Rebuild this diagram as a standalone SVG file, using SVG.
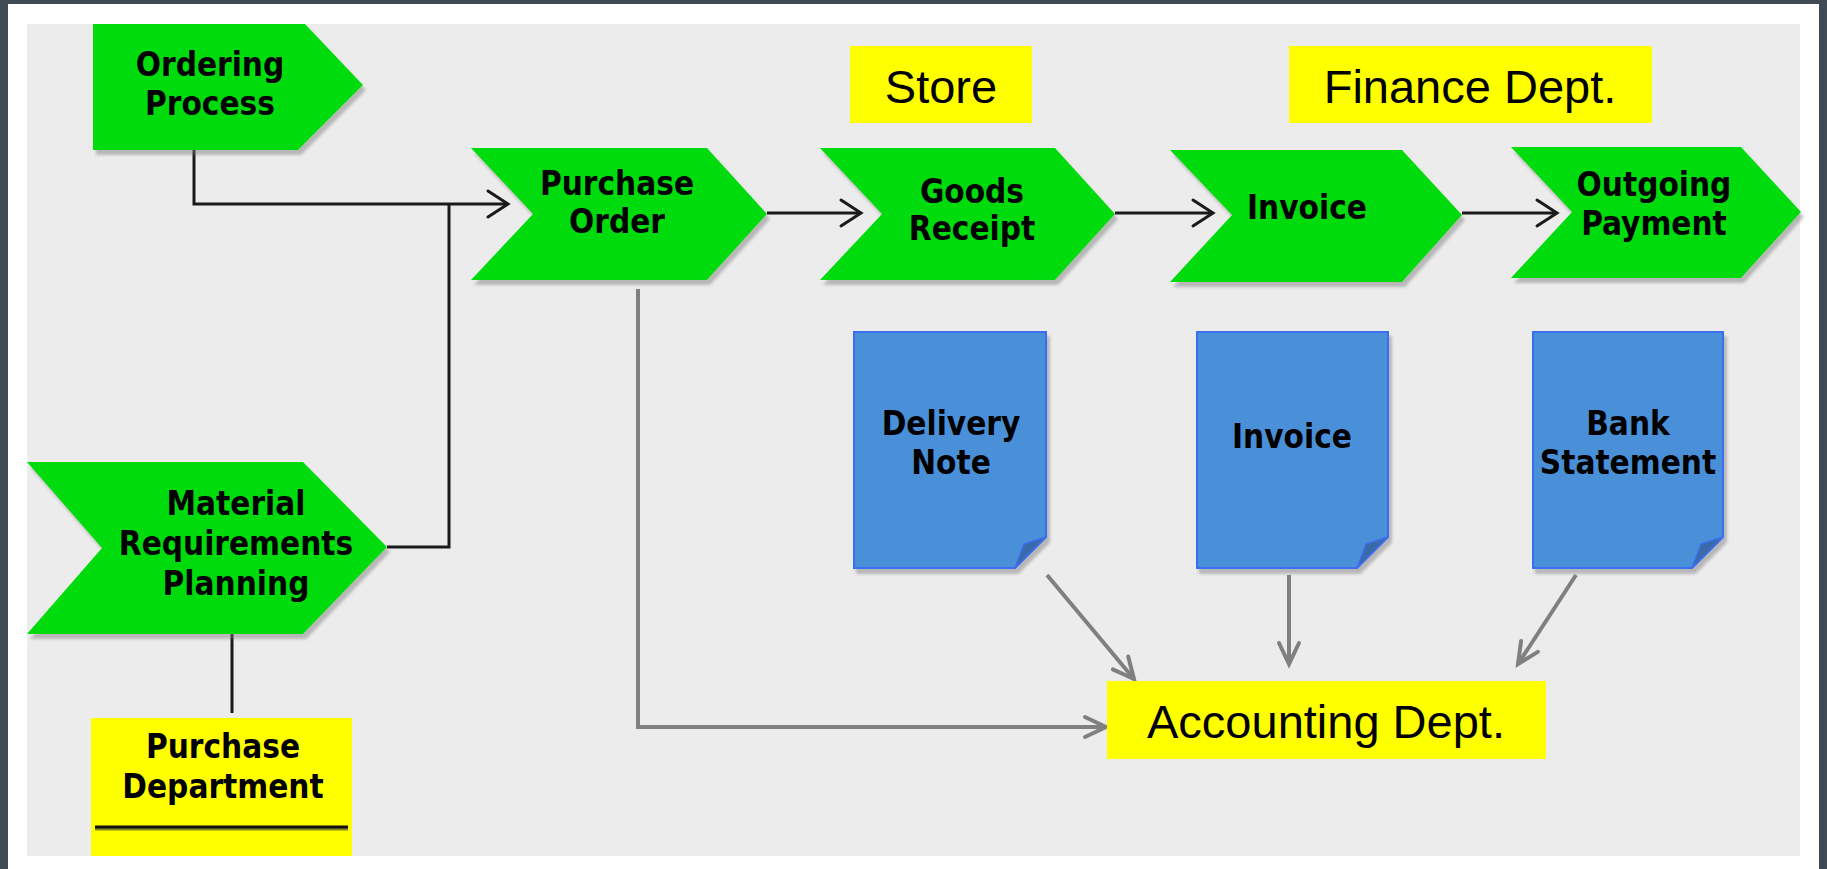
<svg xmlns="http://www.w3.org/2000/svg" width="1827" height="869" viewBox="0 0 1827 869">
<style>
.proc{fill:#04db0a;filter:url(#sh);}
.doc{fill:#4a90d9;stroke:#3b6ef0;stroke-width:2;filter:url(#sh);}
.fold{fill:#3a6aa8;stroke:#3b6ef0;stroke-width:1.5;}
.org{fill:#ffff00;}
.b{font-family:"DejaVu Sans Condensed","DejaVu Sans",sans-serif;font-stretch:condensed;font-weight:bold;font-size:33px;fill:#000;text-anchor:middle;}
.r{font-family:"Liberation Sans",Arial,sans-serif;font-size:47px;fill:#000;text-anchor:middle;}
.blk{fill:none;stroke:#1a1a1a;stroke-width:3;}
.gry{fill:none;stroke:#808080;stroke-width:4;}
</style>
<defs>
<filter id="sh" x="-10%" y="-10%" width="125%" height="130%">
<feDropShadow dx="3" dy="5" stdDeviation="1.5" flood-color="#777" flood-opacity="0.45"/>
</filter>
<marker id="ab" markerUnits="userSpaceOnUse" markerWidth="40" markerHeight="40" viewBox="-25 -20 30 40" refX="0" refY="0" orient="auto">
<path d="M-20,-13 L0,0 L-20,13" fill="none" stroke="#1a1a1a" stroke-width="3" stroke-linecap="round"/>
</marker>
<marker id="ag" markerUnits="userSpaceOnUse" markerWidth="40" markerHeight="40" viewBox="-25 -20 30 40" refX="0" refY="0" orient="auto">
<path d="M-21,-10 L0,0 L-21,10" fill="none" stroke="#808080" stroke-width="4" stroke-linecap="round"/>
</marker>
</defs>
<rect x="0" y="0" width="1827" height="869" fill="#404a55"/>
<rect x="8" y="4" width="1811" height="865" fill="#ffffff"/>
<rect x="27" y="24" width="1773" height="832" fill="#ececec"/>

<g id="connectors">
<path class="blk" d="M194,150 V204 H508" marker-end="url(#ab)"/>
<path class="blk" d="M387,547 H449 V204"/>
<path class="blk" d="M232,634 V713"/>
<path class="blk" d="M767,213 H861" marker-end="url(#ab)"/>
<path class="blk" d="M1115,213 H1213" marker-end="url(#ab)"/>
<path class="blk" d="M1462,213 H1557" marker-end="url(#ab)"/>
<path class="gry" d="M638,289 V727 H1106" marker-end="url(#ag)"/>
<path class="gry" d="M1047,575 L1134,679" marker-end="url(#ag)"/>
<path class="gry" d="M1289,575 V664" marker-end="url(#ag)"/>
<path class="gry" d="M1576,575 L1518,664" marker-end="url(#ag)"/>
</g>

<g id="ordering-process">
<polygon class="proc" points="93,24 305,24 363,85 298,150 93,150"/>
<text class="b" x="210" y="76">Ordering</text>
<text class="b" x="210" y="115">Process</text>
</g>

<g id="mrp">
<polygon class="proc" points="27,462 303,462 387,547 303,634 27,634 102,548"/>
<text class="b" x="236" y="515">Material</text>
<text class="b" x="236" y="555">Requirements</text>
<text class="b" x="236" y="595">Planning</text>
</g>

<g id="purchase-department">
<rect class="org" x="91" y="718" width="261" height="138"/>
<text class="b" x="223" y="758">Purchase</text>
<text class="b" x="223" y="798">Department</text>
<line x1="95" y1="829" x2="348" y2="829" stroke="#8a8a20" stroke-width="3"/>
<line x1="95" y1="827" x2="348" y2="827" stroke="#111" stroke-width="3"/>
</g>

<g id="purchase-order">
<polygon class="proc" points="471,148 707,148 767,214 707,280 471,280 533,214"/>
<text class="b" x="617" y="195">Purchase</text>
<text class="b" x="617" y="233">Order</text>
</g>

<g id="goods-receipt">
<polygon class="proc" points="820,148 1055,148 1115,214 1055,280 820,280 882,214"/>
<text class="b" x="972" y="203">Goods</text>
<text class="b" x="972" y="240">Receipt</text>
</g>

<g id="invoice-step">
<polygon class="proc" points="1170,150 1402,150 1462,215 1402,282 1170,282 1232,215"/>
<text class="b" x="1307" y="219">Invoice</text>
</g>

<g id="outgoing-payment">
<polygon class="proc" points="1511,147 1741,147 1801,212 1741,278 1511,278 1572,212"/>
<text class="b" x="1654" y="196">Outgoing</text>
<text class="b" x="1654" y="235">Payment</text>
</g>

<g id="store">
<rect class="org" x="850" y="46" width="182" height="77"/>
<text class="r" x="941" y="103">Store</text>
</g>

<g id="finance-dept">
<rect class="org" x="1289" y="46" width="363" height="77"/>
<text class="r" x="1470" y="103">Finance Dept.</text>
</g>

<g id="delivery-note">
<path class="doc" d="M854,332 H1046 V537 L1015,568 H854 Z"/>
<polygon class="fold" points="1046,537 1015,568 1024,544"/>
<text class="b" x="951" y="435">Delivery</text>
<text class="b" x="951" y="474">Note</text>
</g>

<g id="invoice-doc">
<path class="doc" d="M1197,332 H1388 V537 L1357,568 H1197 Z"/>
<polygon class="fold" points="1388,537 1357,568 1366,544"/>
<text class="b" x="1292" y="448">Invoice</text>
</g>

<g id="bank-statement">
<path class="doc" d="M1533,332 H1723 V537 L1692,568 H1533 Z"/>
<polygon class="fold" points="1723,537 1692,568 1701,544"/>
<text class="b" x="1628" y="435">Bank</text>
<text class="b" x="1628" y="474">Statement</text>
</g>

<g id="accounting-dept">
<rect class="org" x="1107" y="681" width="439" height="78"/>
<text class="r" x="1326" y="738">Accounting Dept.</text>
</g>
</svg>
